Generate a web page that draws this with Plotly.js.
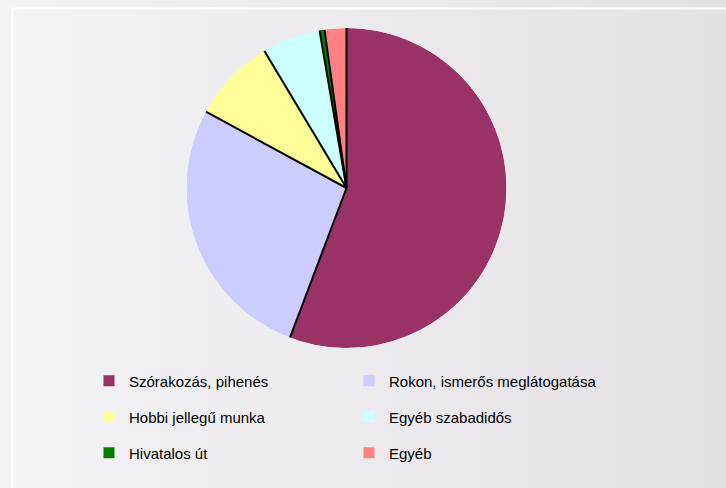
<!DOCTYPE html>
<html><head><meta charset="utf-8">
<script src="https://cdn.plot.ly/plotly-3.0.1.min.js"></script>
<style>
html,body{margin:0;padding:0;}
body{width:726px;height:488px;background:linear-gradient(to right,#f4f3f5,#e3e1e4);overflow:hidden;}
#chart{width:726px;height:488px;}
</style></head>
<body><div id="chart"></div>
<script>
const categories = ["Szórakozás, pihenés","Rokon, ismerős meglátogatása","Hobbi jellegű munka","Egyéb szabadidős","Hivatalos út","Egyéb"];
const values = [55.8, 27.2, 8.5, 5.9, 0.5, 2.2];
const colors = ["#993366","#CCCCFF","#FFFF99","#CCFFFF","#008000","#FF8080"];

const W = 726, H = 488;
const cx = 346.5, cy = 188, R = 160;
const dom = {x:[(cx-R)/W,(cx+R)/W], y:[(H-(cy+R))/H,(H-(cy-R))/H]};

const total = values.reduce((a,b)=>a+b,0);
let cum = 0; const th = [], rr = [], mids = [], spans = [];
values.forEach(v => {
  const a0 = cum/total*360, w = v/total*360;
  th.push(a0, a0, null); rr.push(0,1,null);
  mids.push(a0 + w/2); spans.push(w);
  cum += v;
});

const traces = [{
  type:'barpolar', theta:mids, width:spans, r:values.map(()=>1), base:0,
  marker:{color:colors, line:{width:0}}, text:categories, hoverinfo:'text',
  showlegend:false, subplot:'polar'
},{
  type:'scatterpolar', mode:'lines', theta:th, r:rr, line:{color:'#000', width:2},
  showlegend:false, hoverinfo:'skip', subplot:'polar'
}];
const legendNames = ['legend','legend','legend2','legend2','legend3','legend3'];
categories.forEach((c,i)=>{
  traces.push({type:'scatter', mode:'markers', x:[null], y:[null], name:c,
    marker:{symbol:'square', size:11, color:colors[i]}, legend:legendNames[i], showlegend:true});
});

const lg = (y)=>({orientation:'h', x:89/W, xanchor:'left', y:y, yanchor:'middle',
  bgcolor:'rgba(0,0,0,0)', entrywidth:215, entrywidthmode:'pixels',
  font:{family:'Liberation Sans, Arial, sans-serif', size:15, color:'#000'}, itemclick:false});

const layout = {
  width:W, height:H, margin:{l:0,r:0,t:0,b:0},
  paper_bgcolor:'rgba(0,0,0,0)', plot_bgcolor:'rgba(0,0,0,0)',
  xaxis:{visible:false}, yaxis:{visible:false},
  polar:{domain:dom, bgcolor:'rgba(0,0,0,0)', bargap:0,
    radialaxis:{visible:false, range:[0,1]},
    angularaxis:{visible:false, rotation:90, direction:'clockwise'}},
  legend:lg((H-381)/H), legend2:lg((H-417)/H), legend3:lg((H-453)/H),
  shapes:[{type:'rect', xref:'paper', yref:'paper', x0:12.5/W, x1:1.2, y0:-0.2, y1:1-8.5/H,
    line:{color:'#ffffff', width:2}, fillcolor:'rgba(0,0,0,0)', layer:'below'}],
  showlegend:true
};
Plotly.newPlot('chart', traces, layout, {displayModeBar:false, staticPlot:true});
</script></body></html>
